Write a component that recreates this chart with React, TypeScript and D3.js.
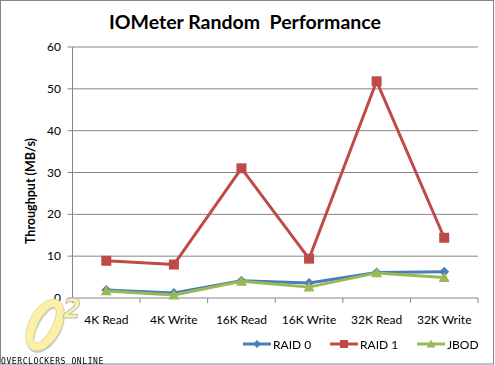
import React from "react";
import * as d3 from "d3";

const categories = ["4K Read", "4K Write", "16K Read", "16K Write", "32K Read", "32K Write"];
const raid0 = [1.9, 1.2, 4.1, 3.6, 6.1, 6.3];
const raid1 = [8.9, 8.0, 31.0, 9.4, 51.8, 14.4];
const jbod = [1.7, 0.7, 4.0, 2.6, 6.0, 4.9];
const yTicks = [0, 10, 20, 30, 40, 50, 60];
const seriesNames = ["RAID 0", "RAID 1", "JBOD"];

const W = 495, H = 365;
const FONT = "Lato, 'Open Sans', sans-serif";

function ringPath(cx: number, cy: number, rx: number, ry: number, irx: number, iry: number) {
  const e = (a: number, b: number) =>
    `M${cx - a},${cy}A${a},${b} 0 1,0 ${cx + a},${cy}A${a},${b} 0 1,0 ${cx - a},${cy}Z`;
  return e(rx, ry) + e(irx, iry);
}

export default function App() {
  const x = d3.scaleBand<string>().domain(categories).range([72.5, 478]);
  const y = d3.scaleLinear().domain([0, 60]).range([298, 47]);
  const line = d3.line<number>()
    .x((_, i) => (x(categories[i]) as number) + x.bandwidth() / 2)
    .y((d) => y(d));

  const series = [
    { name: seriesNames[0], data: raid0, color: "#4A7EBB", marker: "diamond" },
    { name: seriesNames[1], data: raid1, color: "#BE4B48", marker: "square" },
    { name: seriesNames[2], data: jbod, color: "#98B954", marker: "triangle" },
  ];

  const marker = (type: string, cx: number, cy: number, color: string, key: any, s = 1) => {
    if (type === "square") {
      const h = 5 * s;
      return <rect key={key} x={cx - h} y={cy - h} width={2 * h} height={2 * h} fill={color} />;
    }
    if (type === "diamond") {
      const h = 5 * s;
      return <path key={key} d={`M${cx},${cy - h}L${cx + h},${cy}L${cx},${cy + h}L${cx - h},${cy}Z`} fill={color} />;
    }
    const h = 5.5 * s;
    return <path key={key} d={`M${cx},${cy - h}L${cx + h},${cy + h * 0.8}L${cx - h},${cy + h * 0.8}Z`} fill={color} />;
  };

  const legendX = [243, 330, 417];

  return (
    <svg width={W} height={H} style={{ position: "fixed", left: 0, top: 0 }} fontFamily={FONT}>
      <rect x={0.5} y={0.5} width={W - 2} height={H - 1.5} fill="#fff" stroke="#868686" />
      <text x={245} y={29} textAnchor="middle" fontSize={19.5} fontWeight="bold" fill="#000" style={{ whiteSpace: "pre" }}>
        {"IOMeter Random  Performance"}
      </text>
      {/* gridlines */}
      {yTicks.map((t) => (
        <line key={t} x1={72.5} x2={478} y1={y(t)} y2={y(t)} stroke="#868686" strokeWidth={1} />
      ))}
      {/* y axis */}
      <line x1={72.5} x2={72.5} y1={y(60)} y2={y(0)} stroke="#868686" />
      {yTicks.map((t) => (
        <g key={"yt" + t}>
          <line x1={67.5} x2={72.5} y1={y(t)} y2={y(t)} stroke="#868686" />
          <text x={61} y={y(t) + 4} textAnchor="end" fontSize={12} fill="#000">{t}</text>
        </g>
      ))}
      {/* x axis ticks */}
      {categories.map((c, i) => (
        <line key={"xt" + i} x1={(x(c) as number) + x.bandwidth()} x2={(x(c) as number) + x.bandwidth()} y1={y(0)} y2={y(0) + 5} stroke="#868686" />
      ))}
      <line x1={72.5} x2={72.5} y1={y(0)} y2={y(0) + 5} stroke="#868686" />
      {categories.map((c) => (
        <text key={"xl" + c} x={(x(c) as number) + x.bandwidth() / 2} y={324} textAnchor="middle" fontSize={12} fill="#000">{c}</text>
      ))}
      <text transform={`translate(35,191) rotate(-90)`} textAnchor="middle" fontSize={12.5} fontWeight="bold" fill="#000">
        Throughput (MB/s)
      </text>
      {/* logo watermark */}
      <g>
        <g transform="translate(45,325) rotate(28)">
          <path d={ringPath(1.5, 1.5, 16, 28, 7, 20)} fill="#C8C8C8" fillRule="evenodd" />
          <path d={ringPath(0, 0, 16, 28, 7, 20)} fill="#FBF1A6" stroke="#D9D3A0" strokeWidth={0.8} fillRule="evenodd" />
        </g>
        <text x={63} y={318} fontSize={26} fontWeight="bold" fontStyle="italic" fontFamily="'DejaVu Sans', sans-serif" fill="#FBF1A6" stroke="#BDBDBD" strokeWidth={1}>2</text>
      </g>
      <text x={1} y={364} fontSize={8} fontFamily="'DejaVu Sans Mono', monospace" letterSpacing={0.6} fill="#000">OVERCLOCKERS ONLINE</text>
      {/* series */}
      {series.map((s, si) => (
        <g key={s.name}>
          <path d={line(s.data) as string} fill="none" stroke={s.color} strokeWidth={3} strokeLinejoin="round" />
          {s.data.map((v, i) => marker(s.marker, (x(categories[i]) as number) + x.bandwidth() / 2, y(v), s.color, si + "-" + i))}
        </g>
      ))}
      {/* legend */}
      {series.map((s, i) => (
        <g key={"lg" + s.name}>
          <line x1={legendX[i]} x2={legendX[i] + 28} y1={344} y2={344} stroke={s.color} strokeWidth={3} />
          {marker(s.marker, legendX[i] + 14, 344, s.color, "lm" + i, 0.8)}
          <text x={legendX[i] + 30} y={348.5} fontSize={12} fill="#000">{s.name}</text>
        </g>
      ))}
    </svg>
  );
}
